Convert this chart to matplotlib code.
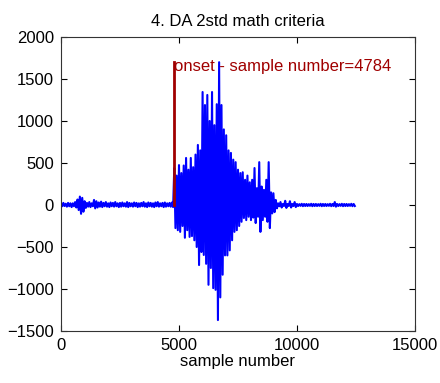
import matplotlib.pyplot as plt
import numpy as np

plt.rcParams['font.family'] = ['Liberation Sans', 'DejaVu Sans']
plt.rcParams['path.simplify'] = False
font_size = 12
wave_color = '#0000ff'
onset_color = '#a00000'

onset_sample = 4784
onset_height = 1700
block = 100  # samples per min/max block

# min/max of the recording per 100-sample block, from sample 0 to 12500
pre_hi = [20, 25, 15, 25, 20, 20, 35, 65, 100, 85, 45, 25, 35, 20, 60, 45,
          30, 40, 25, 35, 20, 30, 25, 35, 20, 25, 30, 20, 35, 25, 20, 30,
          25, 20, 25, 35, 20, 30, 25, 20, 30, 35, 20, 25, 30, 20, 25, 30]
pre_lo = [-15, -12, -20, -15, -25, -15, -30, -60, -105, -80, -35, -20, -25, -15, -40, -30,
          -20, -25, -15, -20, -25, -15, -20, -15, -25, -20, -15, -20, -25, -15, -20, -15,
          -25, -20, -15, -20, -25, -15, -20, -25, -15, -20, -15, -25, -20, -15, -20, -25]
burst_hi = [440, 350, 475, 380, 470, 560, 420, 560, 450, 600, 715, 650,
            1345, 1190, 1310, 1000, 1345, 950, 1200, 1700, 1190, 900, 830, 650,
            620, 540, 510, 420, 380, 390, 300, 350, 270, 300, 440, 200,
            510, 220, 180, 300, 510, 150, 140, 60, 20]
burst_lo = [-275, -300, -320, -250, -390, -300, -380, -370, -420, -500, -715, -560,
            -595, -700, -950, -750, -990, -1010, -1370, -1100, -830, -600, -600, -540,
            -420, -320, -300, -250, -200, -155, -180, -140, -180, -150, -215, -140,
            -320, -180, -140, -200, -275, -100, -85, -40, -15]
tail_hi = [35, 12, 50, 12, 45, 12, 35, 12, 10, 14, 12, 12, 10, 14, 12, 12,
           10, 14, 12, 12, 10, 14, 12, 35, 12, 10, 14, 12, 12, 10, 14, 12]
tail_lo = [-30, -12, -35, -12, -30, -12, -25, -12, -10, -14, -12, -12, -10, -14, -12, -12,
           -10, -14, -12, -12, -10, -14, -12, -20, -12, -10, -14, -12, -12, -10, -14, -12]

hi = np.array(pre_hi + burst_hi + tail_hi)
lo = np.array(pre_lo + burst_lo + tail_lo)
starts = np.arange(len(hi)) * block

# zig-zag through max then min of every block
xs = np.column_stack([starts, starts + block / 2]).ravel()
ys = np.column_stack([hi, lo]).ravel()

fig = plt.figure(figsize=(4.4, 3.83), dpi=100)
ax = fig.add_axes([0.1386, 0.1358, 0.8046, 0.7676])

ax.plot(xs, ys, color=wave_color, linewidth=1.5)
ax.plot([onset_sample, onset_sample], [0, onset_height], color=onset_color,
        linewidth=2.0)
ax.text(onset_sample, onset_height - 50, 'onset - sample number=%d' % onset_sample,
        color=onset_color, fontsize=font_size, va='center', ha='left')

ax.set_xlim(0, 15000)
ax.set_ylim(-1500, 2000)
ax.set_xticks([0, 5000, 10000, 15000])
ax.set_yticks(np.arange(-1500, 2001, 500))
ax.tick_params(direction='in', length=4, top=True, right=True,
               labelsize=font_size, colors='black', pad=5)
for s in ax.spines.values():
    s.set_color('#333333')
    s.set_linewidth(0.8)

ax.set_xlabel('sample number', fontsize=font_size, labelpad=1)
ax.set_title('4. DA 2std math criteria', fontsize=font_size, pad=8)

plt.savefig('out.png', dpi=100)
